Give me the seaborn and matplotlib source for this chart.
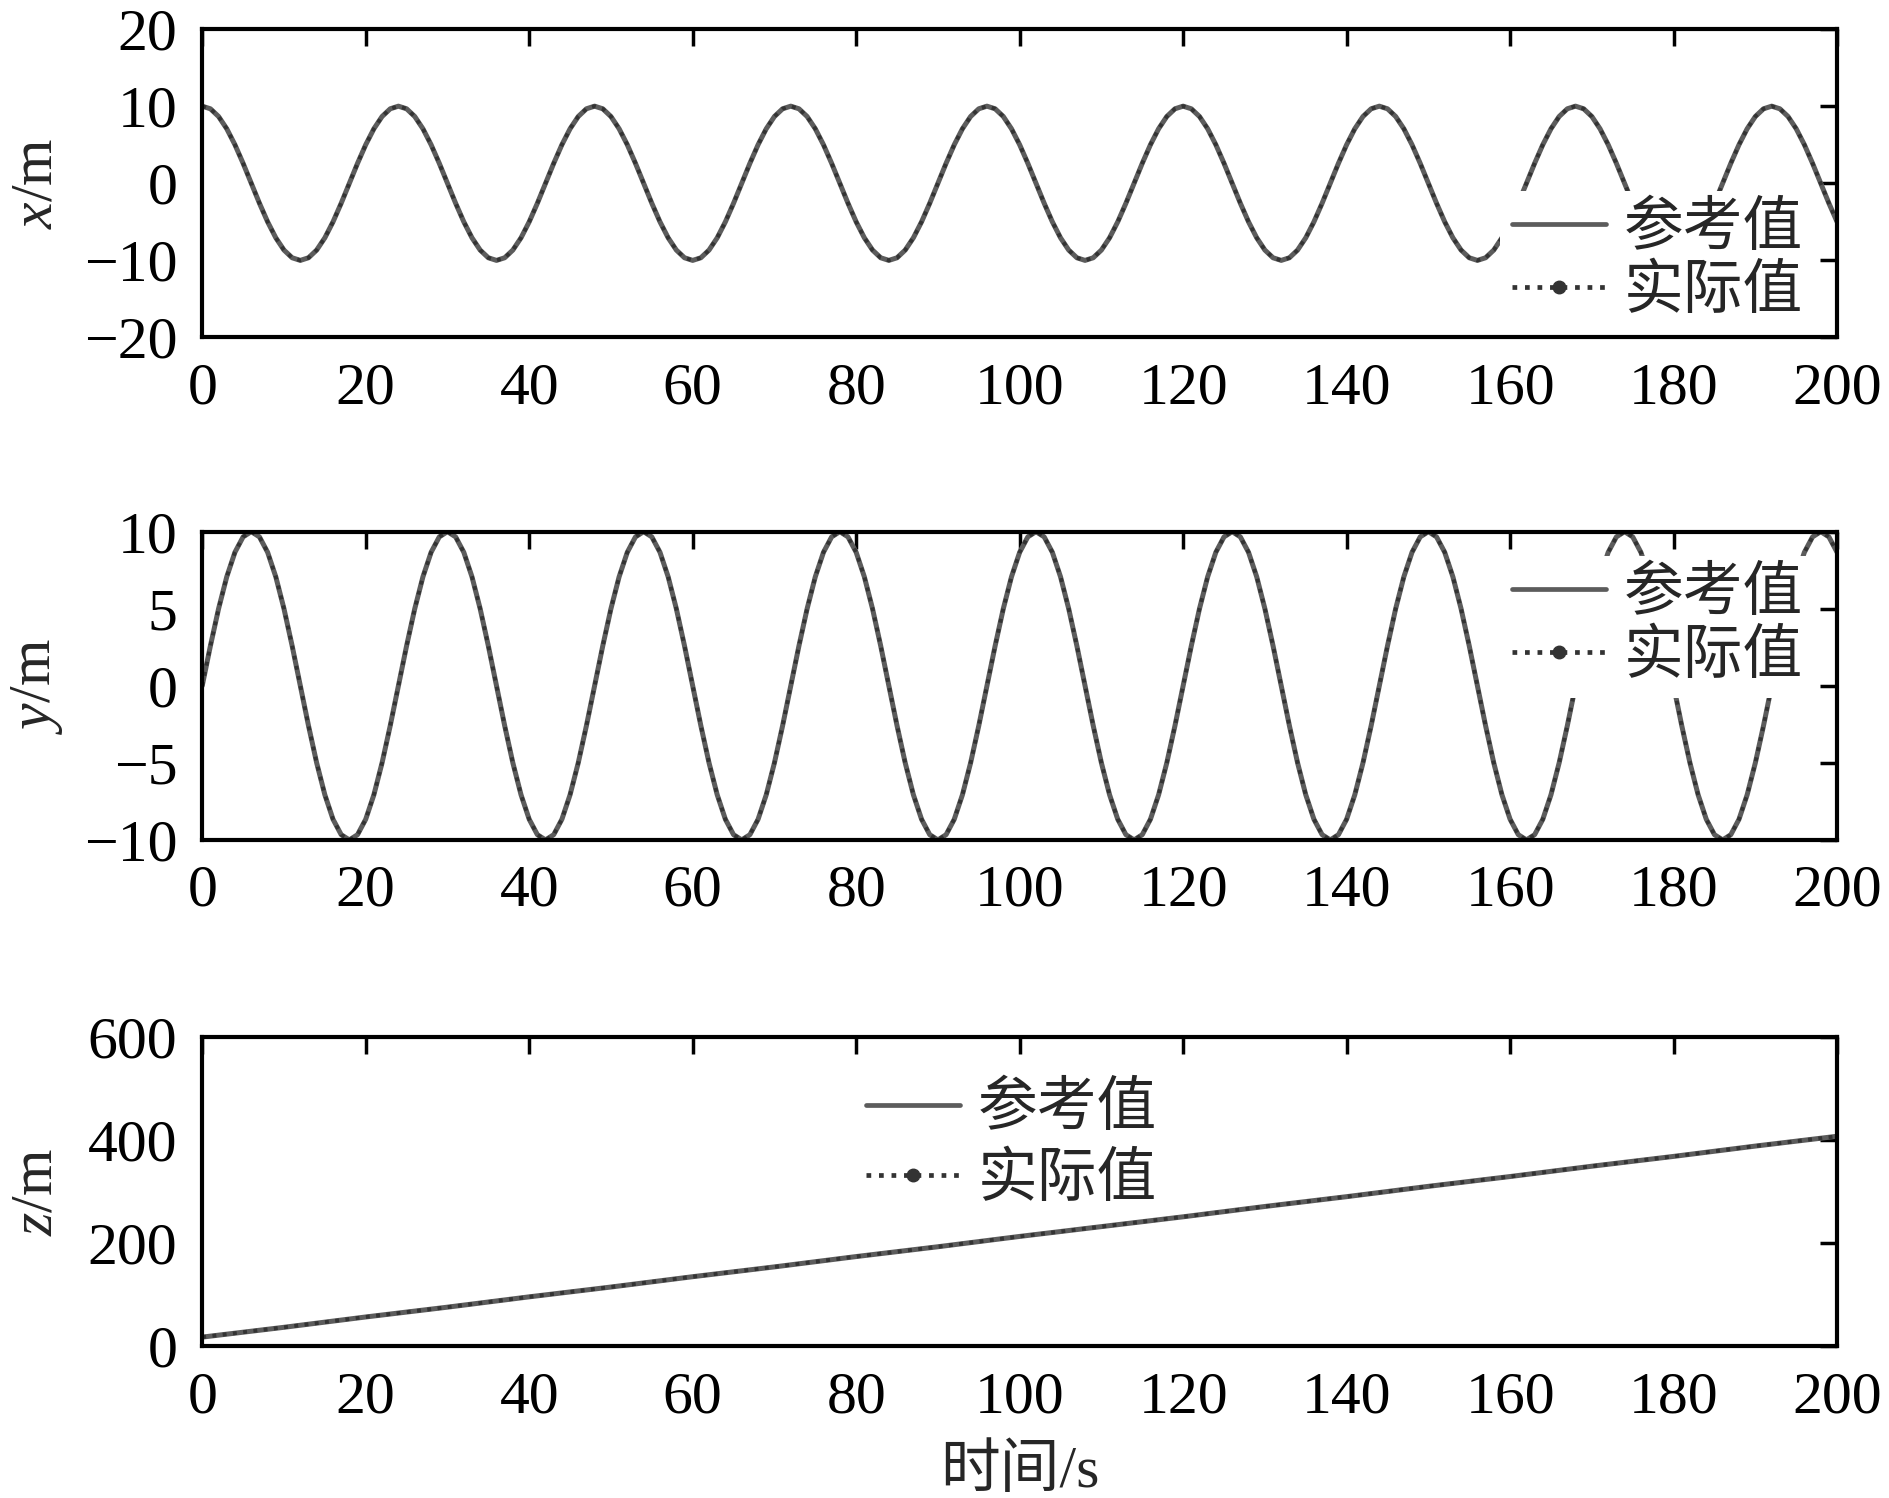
import numpy as np
import seaborn as sns
import matplotlib
matplotlib.use('Agg')
from matplotlib import pyplot as plt
from matplotlib.lines import Line2D

# time axis (s)
t = np.arange(0, 201)

x_ref = [
    10.0, 9.66, 8.66, 7.07, 5.0, 2.59, 0.0, -2.59, -5.0, -7.07, -8.66, -9.66,
    -10.0, -9.66, -8.66, -7.07, -5.0, -2.59, 0.0, 2.59, 5.0, 7.07, 8.66, 9.66,
    10.0, 9.66, 8.66, 7.07, 5.0, 2.59, 0.0, -2.59, -5.0, -7.07, -8.66, -9.66,
    -10.0, -9.66, -8.66, -7.07, -5.0, -2.59, 0.0, 2.59, 5.0, 7.07, 8.66, 9.66,
    10.0, 9.66, 8.66, 7.07, 5.0, 2.59, 0.0, -2.59, -5.0, -7.07, -8.66, -9.66,
    -10.0, -9.66, -8.66, -7.07, -5.0, -2.59, 0.0, 2.59, 5.0, 7.07, 8.66, 9.66,
    10.0, 9.66, 8.66, 7.07, 5.0, 2.59, 0.0, -2.59, -5.0, -7.07, -8.66, -9.66,
    -10.0, -9.66, -8.66, -7.07, -5.0, -2.59, 0.0, 2.59, 5.0, 7.07, 8.66, 9.66,
    10.0, 9.66, 8.66, 7.07, 5.0, 2.59, 0.0, -2.59, -5.0, -7.07, -8.66, -9.66,
    -10.0, -9.66, -8.66, -7.07, -5.0, -2.59, 0.0, 2.59, 5.0, 7.07, 8.66, 9.66,
    10.0, 9.66, 8.66, 7.07, 5.0, 2.59, 0.0, -2.59, -5.0, -7.07, -8.66, -9.66,
    -10.0, -9.66, -8.66, -7.07, -5.0, -2.59, 0.0, 2.59, 5.0, 7.07, 8.66, 9.66,
    10.0, 9.66, 8.66, 7.07, 5.0, 2.59, 0.0, -2.59, -5.0, -7.07, -8.66, -9.66,
    -10.0, -9.66, -8.66, -7.07, -5.0, -2.59, 0.0, 2.59, 5.0, 7.07, 8.66, 9.66,
    10.0, 9.66, 8.66, 7.07, 5.0, 2.59, 0.0, -2.59, -5.0, -7.07, -8.66, -9.66,
    -10.0, -9.66, -8.66, -7.07, -5.0, -2.59, 0.0, 2.59, 5.0, 7.07, 8.66, 9.66,
    10.0, 9.66, 8.66, 7.07, 5.0, 2.59, 0.0, -2.59, -5.0,
]
x_act = x_ref  # actual tracks the reference

# y position (m)
y_ref = [
    0.0, 2.59, 5.0, 7.07, 8.66, 9.66, 10.0, 9.66, 8.66, 7.07, 5.0, 2.59,
    0.0, -2.59, -5.0, -7.07, -8.66, -9.66, -10.0, -9.66, -8.66, -7.07, -5.0, -2.59,
    0.0, 2.59, 5.0, 7.07, 8.66, 9.66, 10.0, 9.66, 8.66, 7.07, 5.0, 2.59,
    0.0, -2.59, -5.0, -7.07, -8.66, -9.66, -10.0, -9.66, -8.66, -7.07, -5.0, -2.59,
    0.0, 2.59, 5.0, 7.07, 8.66, 9.66, 10.0, 9.66, 8.66, 7.07, 5.0, 2.59,
    0.0, -2.59, -5.0, -7.07, -8.66, -9.66, -10.0, -9.66, -8.66, -7.07, -5.0, -2.59,
    0.0, 2.59, 5.0, 7.07, 8.66, 9.66, 10.0, 9.66, 8.66, 7.07, 5.0, 2.59,
    0.0, -2.59, -5.0, -7.07, -8.66, -9.66, -10.0, -9.66, -8.66, -7.07, -5.0, -2.59,
    0.0, 2.59, 5.0, 7.07, 8.66, 9.66, 10.0, 9.66, 8.66, 7.07, 5.0, 2.59,
    0.0, -2.59, -5.0, -7.07, -8.66, -9.66, -10.0, -9.66, -8.66, -7.07, -5.0, -2.59,
    0.0, 2.59, 5.0, 7.07, 8.66, 9.66, 10.0, 9.66, 8.66, 7.07, 5.0, 2.59,
    0.0, -2.59, -5.0, -7.07, -8.66, -9.66, -10.0, -9.66, -8.66, -7.07, -5.0, -2.59,
    0.0, 2.59, 5.0, 7.07, 8.66, 9.66, 10.0, 9.66, 8.66, 7.07, 5.0, 2.59,
    0.0, -2.59, -5.0, -7.07, -8.66, -9.66, -10.0, -9.66, -8.66, -7.07, -5.0, -2.59,
    0.0, 2.59, 5.0, 7.07, 8.66, 9.66, 10.0, 9.66, 8.66, 7.07, 5.0, 2.59,
    0.0, -2.59, -5.0, -7.07, -8.66, -9.66, -10.0, -9.66, -8.66, -7.07, -5.0, -2.59,
    0.0, 2.59, 5.0, 7.07, 8.66, 9.66, 10.0, 9.66, 8.66,
]
y_act = y_ref

# z position (m), read every 10 s
t_z = [0, 10, 20, 30, 40, 50, 60, 70, 80, 90, 100,
       110, 120, 130, 140, 150, 160, 170, 180, 190, 200]
z_ref = [18, 37, 57, 76, 96, 115, 135, 154, 174, 193, 213,
         232, 251, 271, 290, 310, 329, 349, 368, 388, 407]
z_act = z_ref

labels = ['参考值', '实际值']

sns.set_style('white')
plt.rcParams['font.family'] = ['Liberation Serif', 'Noto Sans CJK SC']
plt.rcParams['mathtext.fontset'] = 'custom'
plt.rcParams['mathtext.rm'] = 'Liberation Serif'
plt.rcParams['mathtext.it'] = 'Liberation Serif:italic'
plt.rcParams['axes.unicode_minus'] = True

FS = 43
REF_C = '#5c5c5c'
ACT_C = '#333333'

fig = plt.figure(figsize=(18.9, 14.98), dpi=100)
boxes = [(0.107, 0.7747, 0.865, 0.2059),
         (0.107, 0.4393, 0.865, 0.2058),
         (0.107, 0.1012, 0.865, 0.2068)]
axes = [fig.add_axes(b) for b in boxes]

# (time, ref, actual, ylabel, ylim, yticks, legend anchor, label spacing, border pad)
series = [(t, x_ref, x_act, r'$x$/m', (-20, 20), [-20, -10, 0, 10, 20], (0.794, 0.475), 0.12, 0.2),
          (t, y_ref, y_act, r'$y$/m', (-10, 10), [-10, -5, 0, 5, 10], (0.794, 0.921), 0.12, 0.2),
          (t_z, z_ref, z_act, r'$z$/m', (0, 600), [0, 200, 400, 600], (0.406, 0.85), 0.25, 0.0)]

handles = [Line2D([], [], color=REF_C, lw=3.4),
           Line2D([], [], color=ACT_C, lw=3.4, ls=':', marker='o', markersize=9)]

for ax, (tt, ref, act, ylab, ylim, yticks, leg_pos, lsp, bpad) in zip(axes, series):
    sns.lineplot(x=tt, y=ref, ax=ax, color=REF_C, lw=3.6)
    sns.lineplot(x=tt, y=act, ax=ax, color=ACT_C, lw=2.8, linestyle=':')
    ax.set_xlim(0, 200)
    ax.set_ylim(*ylim)
    ax.set_xticks(range(0, 201, 20))
    ax.set_yticks(yticks)
    ax.tick_params(direction='in', top=True, right=True, length=12, width=2.5,
                   labelsize=FS, pad=18, colors='black')
    for sp in ax.spines.values():
        sp.set_linewidth(3)
        sp.set_color('black')
    ax.set_ylabel(ylab, fontsize=FS)
    ax.yaxis.set_label_coords(-0.084, 0.5)
    ax.legend(handles, labels, loc='upper left', bbox_to_anchor=leg_pos,
              fontsize=FS, frameon=True, framealpha=1, facecolor='white',
              edgecolor='none', fancybox=False, borderpad=bpad,
              borderaxespad=0, handlelength=1.57, handletextpad=0.3,
              labelspacing=lsp)

axes[2].set_xlabel('时间/s', fontsize=FS, labelpad=14)

fig.savefig('out.png', dpi=100)
